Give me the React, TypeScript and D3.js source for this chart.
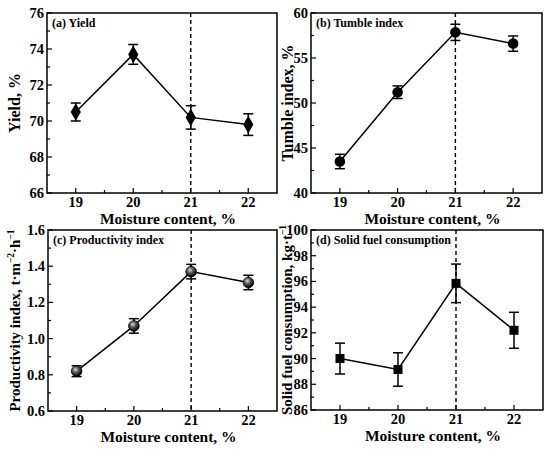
import React, { useEffect } from 'react';
import * as d3 from 'd3';

// moisture content levels (x axis, shared by all panels)
const moisture = [19, 20, 21, 22];
const xTicks = [19, 20, 21, 22];

// (a) yield
const yieldVals = [70.5, 73.7, 70.2, 69.8];
const yieldErr = [0.5, 0.55, 0.65, 0.6];
const yieldTicks = [66, 68, 70, 72, 74, 76];

// (b) tumble index
const tumbleVals = [43.5, 51.2, 57.85, 56.6];
const tumbleErr = [0.8, 0.7, 0.9, 0.85];
const tumbleTicks = [40, 45, 50, 55, 60];

// (c) productivity index
const prodVals = [0.82, 1.07, 1.37, 1.31];
const prodErr = [0.03, 0.04, 0.04, 0.04];
const prodTicks = [0.6, 0.8, 1.0, 1.2, 1.4, 1.6];

// (d) solid fuel consumption
const fuelVals = [90.0, 89.15, 95.85, 92.2];
const fuelErr = [1.2, 1.3, 1.5, 1.4];
const fuelTicks = [86, 88, 90, 92, 94, 96, 98, 100];

const FONT = '"Liberation Serif", "Times New Roman", serif';

type Marker = 'diamond' | 'circle' | 'ball' | 'square';

interface PanelProps {
  box: { left: number; right: number; top: number; bottom: number };
  values: number[];
  errors: number[];
  yTicks: number[];
  yFmt: (v: number) => string;
  marker: Marker;
  label: string;
  yTitle: React.ReactNode;
  yTitleX: number;
  yTitleSize?: number;
}

function Panel({ box, values, errors, yTicks, yFmt, marker, label, yTitle, yTitleX, yTitleSize = 16 }: PanelProps) {
  const x = d3.scaleLinear().domain([18.5, 22.5]).range([box.left, box.right]);
  const y = d3
    .scaleLinear()
    .domain([yTicks[0], yTicks[yTicks.length - 1]])
    .range([box.bottom, box.top]);

  const step = yTicks[1] - yTicks[0];
  const yMinor = yTicks.slice(0, -1).map(t => t + step / 2);
  const xMinor = [19.5, 20.5, 21.5];

  const pts = moisture.map((m, i) => ({ m, v: values[i], e: errors[i] }));
  const line = d3
    .line<typeof pts[0]>()
    .x(d => x(d.m))
    .y(d => y(d.v));

  const drawMarker = (cx: number, cy: number, key: number) => {
    if (marker === 'diamond') {
      const s = d3.symbol(d3.symbolDiamond, 90)();
      return <path key={key} d={s ?? ''} transform={`translate(${cx},${cy})`} fill="#000" />;
    }
    if (marker === 'square') {
      return <rect key={key} x={cx - 4.5} y={cy - 4.5} width={9} height={9} fill="#000" />;
    }
    if (marker === 'ball') {
      return <circle key={key} cx={cx} cy={cy} r={5.3} fill="url(#ballGrad)" stroke="#000" strokeWidth={0.8} />;
    }
    return <circle key={key} cx={cx} cy={cy} r={5.3} fill="#000" />;
  };

  return (
    <g>
      {/* dashed line at 21 % */}
      <line
        x1={x(21)}
        x2={x(21)}
        y1={box.top}
        y2={box.bottom}
        stroke="#000"
        strokeWidth={1.4}
        strokeDasharray="4,3"
      />
      <path d={line(pts) ?? ''} fill="none" stroke="#000" strokeWidth={1.5} />
      {pts.map((d, i) => (
        <g key={i} stroke="#000" strokeWidth={1.5}>
          <line x1={x(d.m)} x2={x(d.m)} y1={y(d.v - d.e)} y2={y(d.v + d.e)} />
          <line x1={x(d.m) - 5} x2={x(d.m) + 5} y1={y(d.v - d.e)} y2={y(d.v - d.e)} />
          <line x1={x(d.m) - 5} x2={x(d.m) + 5} y1={y(d.v + d.e)} y2={y(d.v + d.e)} />
        </g>
      ))}
      {pts.map((d, i) => drawMarker(x(d.m), y(d.v), i))}

      {/* ticks, inward */}
      <g stroke="#000" strokeWidth={1.2}>
        {xTicks.map(t => (
          <line key={`xt${t}`} x1={x(t)} x2={x(t)} y1={box.bottom} y2={box.bottom - 5} />
        ))}
        {xMinor.map(t => (
          <line key={`xm${t}`} x1={x(t)} x2={x(t)} y1={box.bottom} y2={box.bottom - 3} />
        ))}
        {yTicks.map(t => (
          <line key={`yt${t}`} x1={box.left} x2={box.left + 5} y1={y(t)} y2={y(t)} />
        ))}
        {yMinor.map(t => (
          <line key={`ym${t}`} x1={box.left} x2={box.left + 3} y1={y(t)} y2={y(t)} />
        ))}
      </g>

      <rect
        x={box.left}
        y={box.top}
        width={box.right - box.left}
        height={box.bottom - box.top}
        fill="none"
        stroke="#000"
        strokeWidth={1.5}
      />

      <g fontFamily={FONT} fontWeight="bold" fill="#000">
        {xTicks.map(t => (
          <text key={`xl${t}`} x={x(t)} y={box.bottom + 14} fontSize={14.5} textAnchor="middle">
            {t}
          </text>
        ))}
        {yTicks.map(t => (
          <text key={`yl${t}`} x={box.left - 3} y={y(t) + 5} fontSize={14.5} textAnchor="end">
            {yFmt(t)}
          </text>
        ))}
        <text x={(box.left + box.right) / 2 + 6} y={box.bottom + 31} fontSize={15.5} textAnchor="middle">
          Moisture content, %
        </text>
        <text x={box.left + 5} y={box.top + 14} fontSize={12}>
          {label}
        </text>
        <text
          transform={`translate(${yTitleX},${(box.top + box.bottom) / 2}) rotate(-90)`}
          fontSize={yTitleSize}
          textAnchor="middle"
          dy="0.35em"
        >
          {yTitle}
        </text>
      </g>
    </g>
  );
}

export default function App() {
  useEffect(() => {
    document.body.style.margin = '0';
  }, []);

  return (
    <svg width={550} height={449} style={{ display: 'block', background: '#fff' }}>
      <defs>
        <radialGradient id="ballGrad" cx="40%" cy="35%" r="65%">
          <stop offset="0%" stopColor="#d8d8d8" />
          <stop offset="45%" stopColor="#555" />
          <stop offset="100%" stopColor="#000" />
        </radialGradient>
      </defs>
      <Panel
        box={{ left: 47, right: 277, top: 13, bottom: 193 }}
        values={yieldVals}
        errors={yieldErr}
        yTicks={yieldTicks}
        yFmt={d3.format('d')}
        marker="diamond"
        label="(a) Yield"
        yTitle="Yield, %"
        yTitleX={14}
      />
      <Panel
        box={{ left: 311, right: 542, top: 13, bottom: 193 }}
        values={tumbleVals}
        errors={tumbleErr}
        yTicks={tumbleTicks}
        yFmt={d3.format('d')}
        marker="circle"
        label="(b) Tumble index"
        yTitle="Tumble index, %"
        yTitleX={287}
      />
      <Panel
        box={{ left: 48, right: 277, top: 230, bottom: 411 }}
        values={prodVals}
        errors={prodErr}
        yTicks={prodTicks}
        yFmt={d3.format('.1f')}
        marker="ball"
        label="(c) Productivity index"
        yTitle={
          <>
            Productivity index, t·m
            <tspan fontSize={9.5} dy={-6}>−2</tspan>
            <tspan dy={6}>·h</tspan>
            <tspan fontSize={9.5} dy={-6}>−1</tspan>
          </>
        }
        yTitleX={15}
        yTitleSize={15}
      />
      <Panel
        box={{ left: 311, right: 543, top: 230, bottom: 410 }}
        values={fuelVals}
        errors={fuelErr}
        yTicks={fuelTicks}
        yFmt={d3.format('d')}
        marker="square"
        label="(d) Solid fuel consumption"
        yTitle={
          <>
            Solid fuel consumption, kg·t
            <tspan fontSize={9.5} dy={-6}>−1</tspan>
          </>
        }
        yTitleX={287}
        yTitleSize={15}
      />
    </svg>
  );
}
